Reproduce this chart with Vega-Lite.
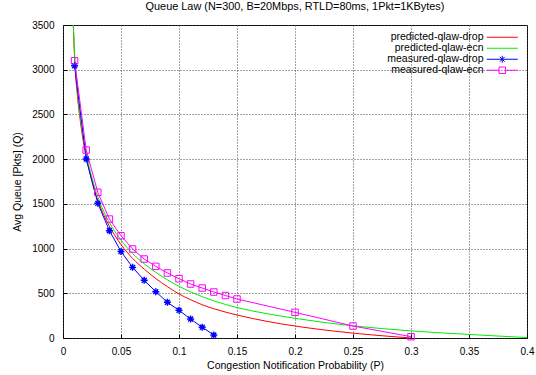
{
  "$schema": "https://vega.github.io/schema/vega-lite/v6.json",
  "autosize": {"type": "none"},
  "width": 464,
  "height": 313,
  "padding": {"left": 63, "top": 25, "right": 9, "bottom": 37},
  "background": "white",
  "title": {"text": "Queue Law (N=300, B=20Mbps, RTLD=80ms, 1Pkt=1KBytes)", "font": "Liberation Sans", "fontSize": 10.9, "fontWeight": "normal", "color": "black", "offset": 8, "anchor": "middle"},
  "config": {
    "view": {"stroke": "black", "strokeWidth": 1},
    "axis": {"labelFont": "Liberation Sans", "labelFontSize": 10, "labelColor": "black", "titleFont": "Liberation Sans", "titleFontSize": 10.5, "titleFontWeight": "normal", "titleColor": "black", "domain": false, "tickColor": "black"},
    "legend": {"labelFont": "Liberation Sans", "labelFontSize": 10.5, "labelColor": "black"}
  },
  "datasets": {
    "curves": [
      {"p": 0.0089, "q": 3500, "series": "predicted-qlaw-drop"},
      {"p": 0.01, "q": 3130, "series": "predicted-qlaw-drop"},
      {"p": 0.0125, "q": 2700, "series": "predicted-qlaw-drop"},
      {"p": 0.015, "q": 2420, "series": "predicted-qlaw-drop"},
      {"p": 0.0175, "q": 2200, "series": "predicted-qlaw-drop"},
      {"p": 0.02, "q": 2030, "series": "predicted-qlaw-drop"},
      {"p": 0.025, "q": 1750, "series": "predicted-qlaw-drop"},
      {"p": 0.03, "q": 1540, "series": "predicted-qlaw-drop"},
      {"p": 0.035, "q": 1380, "series": "predicted-qlaw-drop"},
      {"p": 0.04, "q": 1250, "series": "predicted-qlaw-drop"},
      {"p": 0.045, "q": 1140, "series": "predicted-qlaw-drop"},
      {"p": 0.05, "q": 1045, "series": "predicted-qlaw-drop"},
      {"p": 0.06, "q": 890, "series": "predicted-qlaw-drop"},
      {"p": 0.07, "q": 770, "series": "predicted-qlaw-drop"},
      {"p": 0.08, "q": 665, "series": "predicted-qlaw-drop"},
      {"p": 0.09, "q": 575, "series": "predicted-qlaw-drop"},
      {"p": 0.1, "q": 492, "series": "predicted-qlaw-drop"},
      {"p": 0.11, "q": 428, "series": "predicted-qlaw-drop"},
      {"p": 0.12, "q": 372, "series": "predicted-qlaw-drop"},
      {"p": 0.13, "q": 327, "series": "predicted-qlaw-drop"},
      {"p": 0.14, "q": 290, "series": "predicted-qlaw-drop"},
      {"p": 0.15, "q": 257, "series": "predicted-qlaw-drop"},
      {"p": 0.175, "q": 188, "series": "predicted-qlaw-drop"},
      {"p": 0.2, "q": 134, "series": "predicted-qlaw-drop"},
      {"p": 0.225, "q": 90, "series": "predicted-qlaw-drop"},
      {"p": 0.25, "q": 54, "series": "predicted-qlaw-drop"},
      {"p": 0.275, "q": 25, "series": "predicted-qlaw-drop"},
      {"p": 0.3, "q": 0, "series": "predicted-qlaw-drop"},
      {"p": 0.0089, "q": 3500, "series": "predicted-qlaw-ecn"},
      {"p": 0.01, "q": 3180, "series": "predicted-qlaw-ecn"},
      {"p": 0.0125, "q": 2760, "series": "predicted-qlaw-ecn"},
      {"p": 0.015, "q": 2460, "series": "predicted-qlaw-ecn"},
      {"p": 0.0175, "q": 2240, "series": "predicted-qlaw-ecn"},
      {"p": 0.02, "q": 2065, "series": "predicted-qlaw-ecn"},
      {"p": 0.025, "q": 1790, "series": "predicted-qlaw-ecn"},
      {"p": 0.03, "q": 1580, "series": "predicted-qlaw-ecn"},
      {"p": 0.035, "q": 1420, "series": "predicted-qlaw-ecn"},
      {"p": 0.04, "q": 1290, "series": "predicted-qlaw-ecn"},
      {"p": 0.045, "q": 1185, "series": "predicted-qlaw-ecn"},
      {"p": 0.05, "q": 1095, "series": "predicted-qlaw-ecn"},
      {"p": 0.06, "q": 945, "series": "predicted-qlaw-ecn"},
      {"p": 0.07, "q": 830, "series": "predicted-qlaw-ecn"},
      {"p": 0.08, "q": 735, "series": "predicted-qlaw-ecn"},
      {"p": 0.09, "q": 650, "series": "predicted-qlaw-ecn"},
      {"p": 0.1, "q": 578, "series": "predicted-qlaw-ecn"},
      {"p": 0.11, "q": 516, "series": "predicted-qlaw-ecn"},
      {"p": 0.12, "q": 462, "series": "predicted-qlaw-ecn"},
      {"p": 0.13, "q": 415, "series": "predicted-qlaw-ecn"},
      {"p": 0.14, "q": 375, "series": "predicted-qlaw-ecn"},
      {"p": 0.15, "q": 340, "series": "predicted-qlaw-ecn"},
      {"p": 0.175, "q": 274, "series": "predicted-qlaw-ecn"},
      {"p": 0.2, "q": 220, "series": "predicted-qlaw-ecn"},
      {"p": 0.225, "q": 174, "series": "predicted-qlaw-ecn"},
      {"p": 0.25, "q": 136, "series": "predicted-qlaw-ecn"},
      {"p": 0.275, "q": 105, "series": "predicted-qlaw-ecn"},
      {"p": 0.3, "q": 80, "series": "predicted-qlaw-ecn"},
      {"p": 0.325, "q": 58, "series": "predicted-qlaw-ecn"},
      {"p": 0.35, "q": 40, "series": "predicted-qlaw-ecn"},
      {"p": 0.375, "q": 22, "series": "predicted-qlaw-ecn"},
      {"p": 0.4, "q": 5, "series": "predicted-qlaw-ecn"},
      {"p": 0.01, "q": 3045, "series": "measured-qlaw-drop"},
      {"p": 0.02, "q": 2001, "series": "measured-qlaw-drop"},
      {"p": 0.03, "q": 1506, "series": "measured-qlaw-drop"},
      {"p": 0.04, "q": 1200, "series": "measured-qlaw-drop"},
      {"p": 0.05, "q": 968, "series": "measured-qlaw-drop"},
      {"p": 0.06, "q": 790, "series": "measured-qlaw-drop"},
      {"p": 0.07, "q": 645, "series": "measured-qlaw-drop"},
      {"p": 0.08, "q": 518, "series": "measured-qlaw-drop"},
      {"p": 0.09, "q": 399, "series": "measured-qlaw-drop"},
      {"p": 0.1, "q": 310, "series": "measured-qlaw-drop"},
      {"p": 0.11, "q": 212, "series": "measured-qlaw-drop"},
      {"p": 0.12, "q": 120, "series": "measured-qlaw-drop"},
      {"p": 0.13, "q": 34, "series": "measured-qlaw-drop"},
      {"p": 0.01, "q": 3100, "series": "measured-qlaw-ecn"},
      {"p": 0.02, "q": 2102, "series": "measured-qlaw-ecn"},
      {"p": 0.03, "q": 1629, "series": "measured-qlaw-ecn"},
      {"p": 0.04, "q": 1330, "series": "measured-qlaw-ecn"},
      {"p": 0.05, "q": 1144, "series": "measured-qlaw-ecn"},
      {"p": 0.06, "q": 995, "series": "measured-qlaw-ecn"},
      {"p": 0.07, "q": 883, "series": "measured-qlaw-ecn"},
      {"p": 0.08, "q": 801, "series": "measured-qlaw-ecn"},
      {"p": 0.09, "q": 727, "series": "measured-qlaw-ecn"},
      {"p": 0.1, "q": 663, "series": "measured-qlaw-ecn"},
      {"p": 0.11, "q": 604, "series": "measured-qlaw-ecn"},
      {"p": 0.12, "q": 559, "series": "measured-qlaw-ecn"},
      {"p": 0.13, "q": 514, "series": "measured-qlaw-ecn"},
      {"p": 0.14, "q": 475, "series": "measured-qlaw-ecn"},
      {"p": 0.15, "q": 436, "series": "measured-qlaw-ecn"},
      {"p": 0.2, "q": 287, "series": "measured-qlaw-ecn"},
      {"p": 0.25, "q": 134, "series": "measured-qlaw-ecn"},
      {"p": 0.3, "q": 15, "series": "measured-qlaw-ecn"}
    ]
  },
  "data": {"name": "curves"},
  "layer": [
    {
      "transform": [{"filter": {"field": "series", "oneOf": ["predicted-qlaw-drop", "predicted-qlaw-ecn"]}}],
      "mark": {"type": "line", "interpolate": "monotone", "strokeWidth": 1, "clip": true},
      "encoding": {
        "x": {"field": "p", "type": "quantitative", "scale": {"domain": [0, 0.4], "nice": false, "zero": false},
              "axis": {"title": "Congestion Notification Probability (P)", "values": [0, 0.05, 0.1, 0.15, 0.2, 0.25, 0.3, 0.35, 0.4], "format": "~g", "tickSize": -4, "labelPadding": 12, "titlePadding": 4, "grid": true, "gridColor": "#444444", "gridDash": [1, 2], "gridOpacity": 1, "gridWidth": 1, "labelFlush": false}},
        "y": {"field": "q", "type": "quantitative", "scale": {"domain": [0, 3500], "nice": false, "zero": false},
              "axis": {"title": "Avg Queue [Pkts] (Q)", "values": [0, 500, 1000, 1500, 2000, 2500, 3000, 3500], "format": "d", "tickSize": -4, "labelPadding": 13, "titlePadding": 9, "grid": true, "gridColor": "#444444", "gridDash": [1, 2], "gridOpacity": 1, "gridWidth": 1, "labelFlush": false}},
        "color": {"field": "series", "type": "nominal",
                  "scale": {"domain": ["predicted-qlaw-drop", "predicted-qlaw-ecn", "measured-qlaw-drop", "measured-qlaw-ecn"], "range": ["#ff0000", "#00ee00", "#0000ff", "#ff00ff"]},
                  "legend": {"orient": "none", "legendX": 434, "legendY": 7, "title": null, "padding": 0, "rowPadding": -1.5, "symbolSize": 49, "symbolOffset": 0, "symbolStrokeWidth": 1, "symbolFillColor": "transparent", "labelAlign": "right", "labelOffset": -24, "labelFontSize": 10.5,
                             "encode": {"symbols": {"update": {"shape": {"signal": "datum.value == 'measured-qlaw-drop' ? 'M-4.43,0H4.43M0,-1V1M-0.7,-0.7L0.7,0.7M-0.7,0.7L0.7,-0.7' : datum.value == 'measured-qlaw-ecn' ? 'M-4.43,0H-0.92M0.92,0H4.43M-0.92,-0.92H0.92V0.92H-0.92Z' : 'M-4.43,0H4.43'"}, "fill": {"value": "transparent"}, "stroke": {"scale": "color", "field": "value"}, "strokeWidth": {"value": 1}, "opacity": {"value": 1}}}}}}
      }
    },
    {
      "transform": [{"filter": {"field": "series", "oneOf": ["measured-qlaw-drop", "measured-qlaw-ecn"]}}],
      "mark": {"type": "line", "strokeWidth": 1, "clip": true},
      "encoding": {
        "x": {"field": "p", "type": "quantitative"},
        "y": {"field": "q", "type": "quantitative"},
        "color": {"field": "series", "type": "nominal"}
      }
    },
    {
      "transform": [{"filter": {"field": "series", "equal": "measured-qlaw-drop"}}],
      "mark": {"type": "point", "shape": "M-1,0H1M0,-1V1M-0.7,-0.7L0.7,0.7M-0.7,0.7L0.7,-0.7", "size": 49, "filled": false, "strokeWidth": 1.4, "opacity": 1},
      "encoding": {
        "x": {"field": "p", "type": "quantitative"},
        "y": {"field": "q", "type": "quantitative"},
        "color": {"field": "series", "type": "nominal"}
      }
    },
    {
      "transform": [{"filter": {"field": "series", "equal": "measured-qlaw-ecn"}}],
      "mark": {"type": "point", "shape": "square", "size": 42, "filled": false, "strokeWidth": 1, "opacity": 1},
      "encoding": {
        "x": {"field": "p", "type": "quantitative"},
        "y": {"field": "q", "type": "quantitative"},
        "color": {"field": "series", "type": "nominal"}
      }
    }
  ]
}
